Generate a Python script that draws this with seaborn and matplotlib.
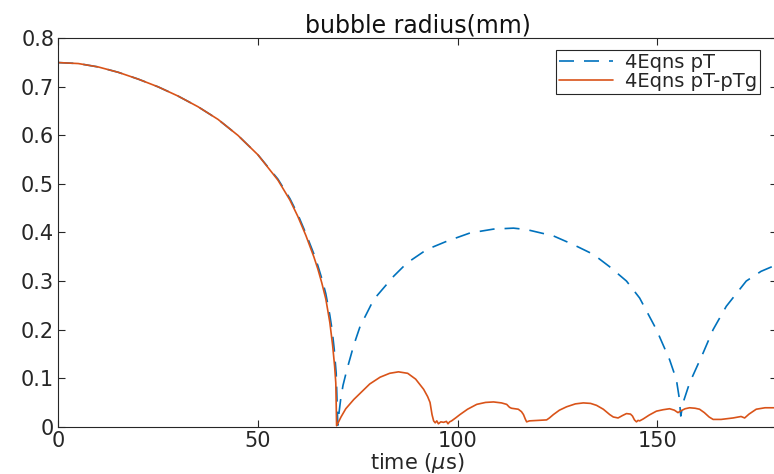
import matplotlib
matplotlib.use("Agg")
import matplotlib.pyplot as plt
import seaborn as sns

sns.set_style("ticks")
plt.rcParams['font.family'] = ['DejaVu Sans']
plt.rcParams['mathtext.fontset'] = 'dejavusans'

# bubble radius (mm) vs time (us)
t_pT = [0, 5, 10, 15, 20, 25, 30, 35, 40, 45, 50, 55, 58, 60, 62, 64, 65, 66, 67,
        68, 68.6, 69.1, 69.6, 70.0, 70.3, 70.7, 71.3, 72.3, 74, 75.6, 77.1, 79,
        81.5, 84, 87.3, 92.3, 97.3, 103.1, 109, 114, 117.3, 124, 129, 134, 138,
        142.3, 145.6, 149.8, 153.1, 154.8, 155.5, 155.9, 156.5, 158.1, 161.5, 164,
        167.3, 172.3, 176, 180]
r_pT = [0.750, 0.748, 0.741, 0.730, 0.716, 0.700, 0.681, 0.659, 0.633, 0.600,
        0.560, 0.510, 0.470, 0.437, 0.398, 0.356, 0.332, 0.305, 0.274, 0.230,
        0.198, 0.160, 0.110, 0.003, 0.028, 0.055, 0.085, 0.118, 0.168, 0.207,
        0.231, 0.262, 0.286, 0.310, 0.337, 0.365, 0.382, 0.399, 0.407, 0.409,
        0.406, 0.393, 0.375, 0.355, 0.330, 0.300, 0.265, 0.200, 0.138, 0.097,
        0.060, 0.022, 0.050, 0.090, 0.152, 0.200, 0.248, 0.300, 0.320, 0.334]

t_pTg = [0, 5, 10, 15, 20, 25, 30, 35, 40, 45, 50, 55, 58, 60, 62, 64, 65, 66, 67,
         68, 68.7, 69.2, 69.5, 69.7, 70.2, 70.8, 72, 74, 76, 78, 80.6, 83, 85.2,
         87.5, 89.5, 91.5, 92.5, 93.1, 93.6, 94, 94.4, 94.8, 95.2, 95.8, 96.5, 97.2,
         97.6, 98, 98.5, 99.5, 100.6, 102.5, 104.8, 107, 109, 111, 112.3, 113,
         113.5, 115.2, 116, 116.5, 117, 117.3, 118, 122.3, 123, 124, 125.5, 127.3,
         129.5, 131.5, 133.3, 134.8, 136.5, 138.1, 139, 140.2, 141.3, 142.3, 143.3,
         143.8, 144.3, 144.8, 145.2, 145.6, 146.5, 148, 149.8, 151.5, 153.1, 154.3,
         155.2, 156, 157, 158.1, 159.5, 160.6, 161.8, 163, 164, 166, 169, 171,
         171.9, 173, 174.8, 177, 180]
r_pTg = [0.750, 0.748, 0.741, 0.730, 0.716, 0.700, 0.681, 0.659, 0.633, 0.600,
         0.560, 0.508, 0.467, 0.433, 0.394, 0.350, 0.325, 0.296, 0.263, 0.215,
         0.168, 0.125, 0.090, 0.002, 0.010, 0.020, 0.037, 0.056, 0.072, 0.088,
         0.102, 0.110, 0.113, 0.110, 0.098, 0.077, 0.062, 0.050, 0.025, 0.012,
         0.008, 0.012, 0.006, 0.010, 0.009, 0.011, 0.006, 0.010, 0.012, 0.018,
         0.025, 0.036, 0.046, 0.050, 0.051, 0.049, 0.046, 0.040, 0.038, 0.036,
         0.031, 0.025, 0.015, 0.010, 0.012, 0.014, 0.018, 0.025, 0.034, 0.041,
         0.047, 0.049, 0.048, 0.044, 0.036, 0.025, 0.020, 0.018, 0.023, 0.027,
         0.026, 0.022, 0.014, 0.010, 0.013, 0.012, 0.016, 0.024, 0.032, 0.035,
         0.037, 0.034, 0.029, 0.033, 0.037, 0.039, 0.038, 0.036, 0.029, 0.020,
         0.015, 0.015, 0.018, 0.021, 0.018, 0.026, 0.036, 0.039, 0.039]

fig = plt.figure(figsize=(7.74, 4.74), dpi=100)
ax = fig.add_axes([58.3 / 774, (474 - 426.7) / 474, (777 - 58.3) / 774, (426.7 - 38.3) / 474])

sns.lineplot(x=t_pT, y=r_pT, ax=ax, color='#0072BD', linewidth=1.2,
             label='4Eqns pT')
ax.lines[-1].set_dashes([9, 6])
sns.lineplot(x=t_pTg, y=r_pTg, ax=ax, color='#D95319', linewidth=1.2,
             label='4Eqns pT-pTg')

ax.set_xlim(0, 180)
ax.set_ylim(0, 0.8)
ax.set_xticks([0, 50, 100, 150])
ax.set_yticks([0, 0.1, 0.2, 0.3, 0.4, 0.5, 0.6, 0.7, 0.8])
ax.set_yticklabels(['0', '0.1', '0.2', '0.3', '0.4', '0.5', '0.6', '0.7', '0.8'])
ax.tick_params(direction='in', length=5, width=0.8, top=True, right=True,
               labelsize=15, colors='#262626', pad=3)
for s in ax.spines.values():
    s.set_color('#262626')
    s.set_linewidth(0.8)

ax.set_xlabel(r'time ($\mu$s)', fontsize=15, labelpad=0, color='#262626')
ax.set_title('bubble radius(mm)', fontsize=17, pad=4, color='#111111')

leg = ax.legend(loc='upper right', bbox_to_anchor=(0.976, 0.970), borderaxespad=0,
                fontsize=14, frameon=True, fancybox=False, edgecolor='#262626',
                framealpha=1, handlelength=2.8, borderpad=0.15, labelspacing=0.0,
                handletextpad=0.6)
leg.get_frame().set_linewidth(0.8)

fig.savefig('out.png', dpi=100)
